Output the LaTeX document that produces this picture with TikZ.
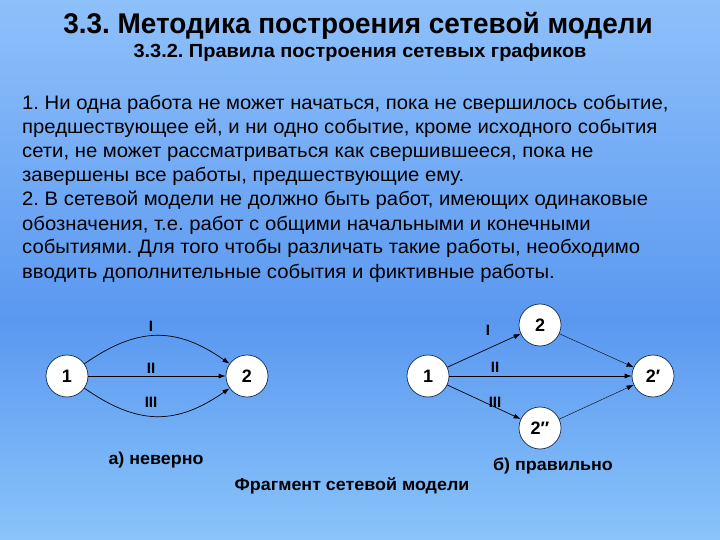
\documentclass[tikz,border=0pt]{standalone}
\usepackage{fontspec}
\setmainfont{Liberation Sans}
\newfontfamily\titlefont[FakeStretch=0.98]{Liberation Sans}
\newfontfamily\subfont[FakeStretch=1.05]{Liberation Sans}
\newfontfamily\bodyfont[FakeStretch=1.04]{Liberation Sans}
\newfontfamily\captfont[FakeStretch=1.04]{Liberation Sans}
\usetikzlibrary{arrows.meta}
\frenchspacing
\definecolor{bgtop}{RGB}{142,192,250}
\definecolor{bgmid}{RGB}{90,152,240}
\definecolor{bgbot}{RGB}{138,196,250}
\definecolor{ringcol}{RGB}{20,40,80}
\tikzset{
  evt/.style={circle, draw=ringcol, line width=0.7pt, fill=white, minimum size=42pt, inner sep=0pt, font=\bfseries\fontsize{18}{18}\selectfont},
  job/.style={-{Latex[length=7pt,width=5pt]}, line width=0.7pt, black},
  fict/.style={-{Latex[length=7pt,width=5pt]}, line width=0.4pt, black},
  lbl/.style={font=\bfseries\fontsize{15}{15}\selectfont, inner sep=0pt},
  bodyline/.style={anchor=base west, inner sep=0pt, font=\bodyfont\fontsize{19.5}{19.5}\selectfont},
  capt/.style={font=\captfont\bfseries\fontsize{17.2}{17.2}\selectfont, inner sep=0pt}
}
\begin{document}
\begin{tikzpicture}[x=1pt,y=-1pt]
\useasboundingbox (0,0) rectangle (720,540);
\shade[top color=bgtop, bottom color=bgmid] (0,0) rectangle (720,320);
\shade[top color=bgmid, bottom color=bgbot] (0,319.5) rectangle (720,540);

\node[anchor=base, inner sep=0pt, font=\titlefont\bfseries\fontsize{28.5}{28.5}\selectfont] (title) at (358,34) {3.3. Методика построения сетевой модели};
\node[anchor=base, inner sep=0pt, font=\subfont\bfseries\fontsize{19}{19}\selectfont] (subtitle) at (360,58) {3.3.2. Правила построения сетевых графиков};

\node[bodyline] (l1) at (22,110) {1. Ни одна работа не может начаться, пока не свершилось событие,};
\node[bodyline] (l2) at (22,134) {предшествующее ей, и ни одно событие, кроме исходного события};
\node[bodyline] (l3) at (22,158) {сети, не может рассматриваться как свершившееся, пока не};
\node[bodyline] (l4) at (22,182) {завершены все работы, предшествующие ему.};
\node[bodyline] (l5) at (22,206) {2. В сетевой модели не должно быть работ, имеющих одинаковые};
\node[bodyline] (l6) at (22,230) {обозначения, т.е. работ с общими начальными и конечными};
\node[bodyline] (l7) at (22,254) {событиями. Для того чтобы различать такие работы, необходимо};
\node[bodyline] (l8) at (22,278) {вводить дополнительные события и фиктивные работы.};

% left diagram
\node[evt] (a1) at (67,376) {1};
\node[evt] (a2) at (247,376) {2};
\draw[job] (a1) to[out=35,in=145,looseness=1.15] (a2);
\draw[job] (a1) -- (a2);
\draw[job] (a1) to[out=-35,in=-145,looseness=1.15] (a2);
\node[lbl] (aI) at (151,326) {I};
\node[lbl] (aII) at (151,368) {II};
\node[lbl] (aIII) at (151,402) {III};
\node[capt] (capa) at (156,460) {а) неверно};

% right diagram
\node[evt] (b1) at (428,376) {1};
\node[evt] (b2) at (540,325) {2};
\node[evt] (b3) at (653,376) {2′};
\node[evt] (b4) at (540,428) {2″};
\draw[job] (b1) -- (b2);
\draw[job] (b1) -- (b3);
\draw[job] (b1) -- (b4);
\draw[fict] (b2) -- (b3);
\draw[fict] (b4) -- (b3);
\node[lbl] (bI) at (488,330) {I};
\node[lbl] (bII) at (495,367) {II};
\node[lbl] (bIII) at (495,402) {III};
\node[capt] (capb) at (553,466) {б) правильно};

\node[capt] (frag) at (352,486) {Фрагмент сетевой модели};
\end{tikzpicture}
\end{document}
